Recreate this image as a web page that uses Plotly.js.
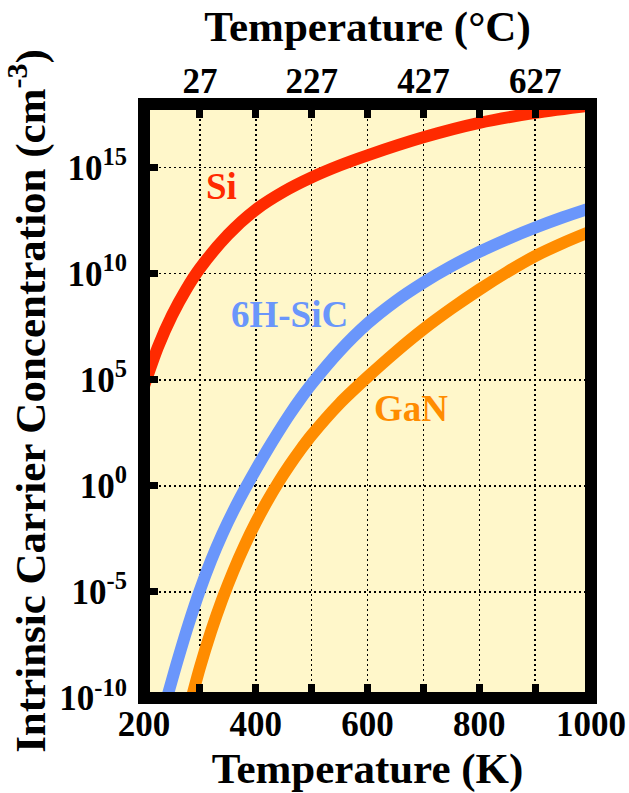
<!DOCTYPE html>
<html>
<head>
<meta charset="utf-8">
<script src="https://cdn.plot.ly/plotly-3.0.1.min.js"></script>
<style>
  html, body { margin: 0; padding: 0; background: #ffffff; }
  #chart { width: 629px; height: 793px; }
</style>
</head>
<body>
<div id="chart"></div>
<script>
// ---- Data ----
// Temperatures in kelvin and log10 of intrinsic carrier concentration (cm^-3)
const siT    = [200, 225, 250, 275, 300, 350, 400, 450, 500, 550, 600, 700, 800, 900, 1000];
const siLogN = [4.7, 6.55, 8.03, 9.24, 10.25, 11.83, 13.02, 13.87, 14.54, 15.1, 15.58, 16.43, 17.11, 17.58, 17.93];

const sicT    = [240, 260, 280, 300, 320, 340, 360, 380, 400, 420, 440, 460, 480, 500,
                 550, 600, 650, 700, 750, 800, 850, 900, 950, 1000];
const sicLogN = [-10.1, -8.24, -6.5, -4.92, -3.52, -2.28, -1.18, -0.18, 0.76, 1.66, 2.52, 3.34, 4.1, 4.8,
                 6.35, 7.65, 8.7, 9.58, 10.35, 11.03, 11.63, 12.17, 12.66, 13.1];

const ganT    = [280, 300, 320, 340, 360, 380, 400, 420, 440, 460, 480, 500,
                 550, 600, 650, 700, 750, 800, 850, 900, 950, 1000];
const ganLogN = [-10.53, -8.57, -6.86, -5.35, -4.01, -2.81, -1.73, -0.75, 0.14, 0.95, 1.7, 2.39,
                 3.88, 5.13, 6.3, 7.38, 8.35, 9.25, 10.08, 10.83, 11.45, 12.0];

// Axis ticks
const kTickVals = [200, 300, 400, 500, 600, 700, 800, 900, 1000];
const kTickText = ['200', '', '400', '', '600', '', '800', '', '1000'];
const cTickVals = [300, 400, 500, 600, 700, 800, 900];
const cTickText = ['27', '', '227', '', '427', '', '627'];
const nTickExp  = [-10, -5, 0, 5, 10, 15];
const nTickText = nTickExp.map(e => '10<sup>' + e + '</sup>');

// Series labels
const seriesNames  = ['Si', '6H-SiC', 'GaN'];
const seriesColors = ['#ff2a00', '#6a96fb', '#ff8c00'];
const labelT       = [338, 461, 677];
const labelLogN    = [14.1, 8.1, 3.67];

// ---- Build ----
const pow10 = a => a.map(v => Math.pow(10, v));
const FONT = '"Liberation Serif", "Times New Roman", Times, serif';

const series = [[siT, siLogN], [sicT, sicLogN], [ganT, ganLogN]];
const traces = series.map((s, i) => ({
  type: 'scatter',
  mode: 'lines',
  x: s[0],
  y: pow10(s[1]),
  name: seriesNames[i],
  line: { color: seriesColors[i], width: 12, shape: 'spline', smoothing: 0.8 },
  hoverinfo: 'skip',
  showlegend: false
}));

// Invisible helper so the top (°C) axis gets its own subplot and is drawn
traces.push({
  type: 'scatter', mode: 'markers', xaxis: 'x2', yaxis: 'y',
  x: cTickVals, y: cTickVals.map(() => null),
  marker: { opacity: 0 }, hoverinfo: 'skip', showlegend: false
});

const annotations = seriesNames.map((n, i) => ({
  x: labelT[i], y: labelLogN[i], xref: 'x', yref: 'y',
  text: n, showarrow: false,
  font: { family: FONT, size: 37, color: seriesColors[i], weight: 700 },
  xanchor: 'center', yanchor: 'middle'
}));

const gridStyle = { showgrid: true, gridcolor: '#000000', gridwidth: 1.5, griddash: '2px,3px' };
const tickStyle = {
  ticks: 'inside', ticklen: 14, tickwidth: 7, tickcolor: '#000000',
  tickfont: { family: FONT, size: 35, weight: 700, color: '#000000' },
  zeroline: false, showline: false, automargin: false
};
const titleFont = { family: FONT, size: 43, weight: 700, color: '#000000' };

const layout = {
  width: 629, height: 793,
  margin: { l: 144, r: 38, t: 104, b: 95, pad: 0 },
  paper_bgcolor: '#ffffff',
  plot_bgcolor: '#fff7ca',
  font: { family: FONT, color: '#000000' },
  showlegend: false,
  xaxis: Object.assign({
    range: [200, 1000],
    tickmode: 'array', tickvals: kTickVals, ticktext: kTickText,
    ticklabelstandoff: 2,
    title: { text: 'Temperature (K)', font: titleFont, standoff: 10 }
  }, tickStyle, gridStyle),
  xaxis2: Object.assign({
    overlaying: 'x', side: 'top', anchor: 'y',
    range: [200, 1000],
    tickmode: 'array', tickvals: cTickVals, ticktext: cTickText,
    ticklabelstandoff: 3,
    showgrid: false,
    title: { text: 'Temperature (°C)', font: titleFont, standoff: 6 }
  }, tickStyle),
  yaxis: Object.assign({
    type: 'log', range: [-10, 18],
    tickmode: 'array', tickvals: pow10(nTickExp), ticktext: nTickText,
    ticklabelstandoff: 16,
    title: { text: 'Intrinsic Carrier Concentration (cm<sup>-3</sup>)', font: titleFont, standoff: 10 }
  }, tickStyle, gridStyle),
  shapes: [{
    type: 'rect', xref: 'paper', yref: 'paper', x0: 0, x1: 1, y0: 0, y1: 1,
    line: { color: '#000000', width: 12 }, fillcolor: 'rgba(0,0,0,0)', layer: 'above'
  }],
  annotations: annotations
};

Plotly.newPlot('chart', traces, layout, { staticPlot: true, displayModeBar: false });
</script>
</body>
</html>
